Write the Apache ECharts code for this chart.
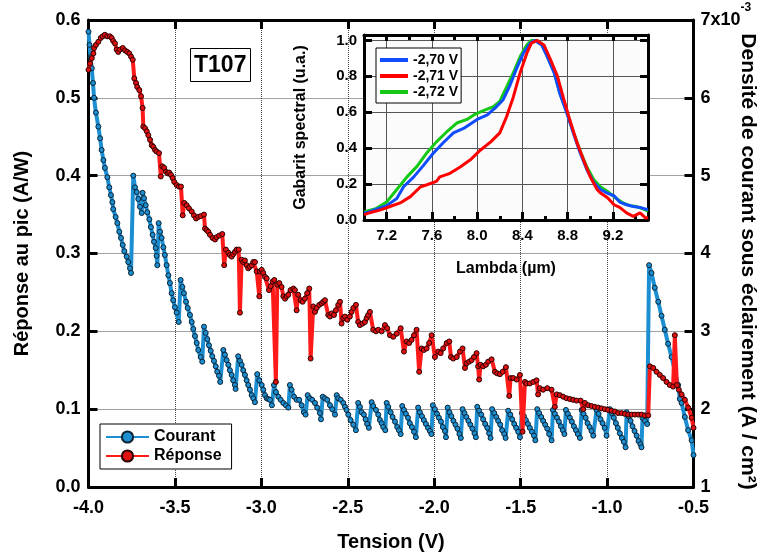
<!DOCTYPE html>
<html><head><meta charset="utf-8">
<script src="https://cdn.jsdelivr.net/npm/echarts@6/dist/echarts.min.js"></script>
<style>html,body{margin:0;padding:0;background:#fff}#c{width:764px;height:556px}</style>
</head><body><div id="c"></div>
<script>
// ---- Main chart: Courant (right axis, x1e-3 A/cm2) ----
const courantV = [
-4.000,-3.994,-3.988,-3.981,-3.974,-3.968,-3.957,-3.943,-3.933,-3.924,-3.914,-3.905,-3.891,-3.880,-3.870,-3.862,-3.857,-3.843,-3.833,-3.822,-3.812,-3.802,-3.793,-3.779,-3.770,-3.760,-3.754,
-3.741,-3.731,-3.721,-3.712,-3.702,-3.692,
-3.687,-3.679,-3.669,-3.660,-3.648,-3.639,-3.629,-3.621,-3.611,-3.606,-3.602,
-3.594,-3.586,-3.577,-3.567,-3.558,-3.548,-3.538,-3.529,-3.519,-3.510,-3.500,-3.490,-3.478,
-3.467,-3.457,-3.448,-3.436,-3.426,-3.413,-3.403,-3.394,-3.384,-3.374,-3.365,-3.351,-3.342,
-3.332,-3.322,-3.313,-3.303,-3.293,-3.284,-3.274,-3.264,-3.255,-3.245,-3.238,
-3.220,-3.211,-3.201,-3.191,-3.182,-3.172,-3.163,-3.153,-3.149,
-3.134,-3.124,-3.114,-3.105,-3.095,-3.085,-3.076,-3.066,-3.056,-3.047,-3.037,
-3.024,-3.012,-2.998,-2.989,-2.979,-2.969,-2.960,-2.950,-2.939,
-2.927,-2.916,-2.902,-2.888,-2.873,-2.858,-2.844,
-2.835,-2.825,-2.811,-2.796,-2.781,-2.767,-2.754,-2.744,
-2.732,-2.719,-2.706,-2.690,-2.677,-2.661,-2.655,
-2.645,-2.632,-2.619,-2.603,-2.590,-2.574,
-2.564,-2.555,-2.541,-2.526,-2.516,-2.507,-2.497,-2.484,-2.468,-2.453,
-2.440,-2.430,-2.420,-2.407,-2.397,-2.388,-2.378,
-2.362,-2.353,-2.337,-2.324,-2.314,-2.304,-2.295,-2.283,
-2.275,-2.266,-2.252,-2.241,-2.227,-2.214,-2.204,-2.194,
-2.185,-2.175,-2.164,-2.152,-2.141,-2.129,-2.117,-2.106,
-2.093,-2.083,-2.071,-2.060,-2.048,-2.036,-2.025,-2.016,
-2.008,-1.996,-1.984,-1.973,-1.961,-1.950,-1.938,-1.932,
-1.922,-1.912,-1.901,-1.889,-1.877,-1.866,-1.854,-1.846,
-1.836,-1.825,-1.814,-1.802,-1.791,-1.779,-1.767,-1.759,
-1.751,-1.740,-1.728,-1.717,-1.705,-1.693,-1.682,-1.674,
-1.665,-1.653,-1.641,-1.630,-1.618,-1.607,-1.595,-1.587,
-1.572,-1.560,-1.549,-1.537,-1.526,-1.514,-1.504,
-1.493,-1.481,-1.470,-1.458,-1.447,-1.435,-1.423,-1.415,
-1.404,-1.393,-1.381,-1.370,-1.358,-1.346,-1.335,-1.321,
-1.313,-1.302,-1.290,-1.279,-1.267,-1.256,-1.247,
-1.238,-1.227,-1.215,-1.204,-1.192,-1.180,-1.169,-1.157,
-1.147,-1.136,-1.124,-1.113,-1.101,-1.090,-1.080,
-1.061,-1.049,-1.038,-1.026,-1.014,-1.003,
-0.984,-0.972,-0.961,-0.949,-0.938,-0.926,-0.914,-0.903,-0.893,
-0.887,-0.876,-0.864,-0.853,-0.841,-0.829,-0.818,-0.807,-0.801,
-0.795,-0.781,-0.768,
-0.757,-0.743,-0.724,-0.704,-0.685,-0.666,-0.647,-0.627,-0.608,-0.589,-0.579,-0.569,-0.550,-0.531,-0.511,-0.500
];
const courantJ = [
6.85,6.68,6.52,6.38,6.19,6.00,5.81,5.63,5.48,5.33,5.20,5.10,4.98,4.85,4.75,4.66,4.57,4.47,4.39,4.28,4.20,4.11,4.03,3.96,3.89,3.81,3.75,
5.00,4.85,4.79,4.70,4.60,4.52,
4.78,4.71,4.62,4.53,4.44,4.34,4.24,4.15,4.07,3.97,3.85,
4.39,4.28,4.20,4.08,3.98,3.85,3.72,3.62,3.49,3.40,3.31,3.24,3.12,
3.66,3.57,3.49,3.38,3.30,3.21,3.12,3.03,2.94,2.85,2.76,2.67,2.61,
3.06,2.98,2.90,2.82,2.75,2.68,2.62,2.55,2.48,2.43,2.35,
2.76,2.70,2.63,2.57,2.50,2.44,2.37,2.31,2.26,
2.68,2.62,2.57,2.50,2.44,2.37,2.31,2.25,2.18,2.14,2.09,
2.45,2.37,2.31,2.25,2.18,2.14,2.13,2.12,2.05,
2.31,2.22,2.16,2.12,2.08,2.05,2.02,
2.31,2.25,2.16,2.12,2.12,2.05,1.96,1.93,
2.18,2.14,2.12,2.08,2.02,1.95,1.87,
2.16,2.14,2.12,2.05,2.00,1.93,
2.18,2.14,2.12,2.08,2.03,1.99,1.93,1.86,1.80,1.73,
2.08,2.03,1.96,1.93,1.87,1.81,1.76,
2.09,2.04,1.99,1.93,1.86,1.82,1.77,1.73,
2.08,2.03,1.96,1.90,1.84,1.77,1.73,1.68,
2.04,1.99,1.94,1.89,1.82,1.77,1.71,1.64,
2.02,1.96,1.91,1.86,1.81,1.76,1.72,1.68,
2.05,2.00,1.94,1.89,1.84,1.77,1.72,1.64,
2.02,1.96,1.91,1.85,1.80,1.75,1.68,1.63,
2.00,1.95,1.90,1.85,1.80,1.75,1.69,1.64,
2.03,1.98,1.93,1.87,1.81,1.76,1.69,1.63,
2.00,1.95,1.90,1.85,1.80,1.73,1.68,1.63,
1.98,1.93,1.87,1.81,1.76,1.71,1.64,
1.95,1.91,1.86,1.81,1.76,1.71,1.66,1.60,
2.00,1.95,1.90,1.85,1.80,1.75,1.68,1.60,
1.99,1.94,1.89,1.84,1.78,1.73,1.68,
1.99,1.94,1.89,1.84,1.78,1.73,1.68,1.63,
1.99,1.94,1.89,1.82,1.77,1.72,1.66,
1.99,1.94,1.87,1.82,1.76,1.66,
2.00,1.95,1.89,1.82,1.76,1.69,1.63,1.58,1.51,
1.96,1.91,1.85,1.78,1.72,1.66,1.59,1.55,1.51,
1.89,1.85,1.81,
3.85,3.75,3.56,3.38,3.20,3.02,2.84,2.67,2.49,2.31,2.13,2.08,1.90,1.73,1.60,1.41
];

// ---- Main chart: Réponse (left axis, A/W) ----
const reponseV = [
-4.000,-3.991,-3.981,-3.972,-3.968,-3.957,-3.943,-3.929,-3.918,-3.905,
-3.891,-3.876,-3.866,-3.857,-3.847,-3.837,-3.828,-3.818,-3.802,-3.789,
-3.776,-3.764,-3.754,-3.744,-3.735,-3.725,-3.718,-3.706,-3.696,-3.687,
-3.683,-3.673,-3.663,-3.654,-3.644,-3.634,-3.625,-3.615,-3.606,-3.592,
-3.582,-3.573,-3.562,-3.552,-3.542,-3.533,-3.523,-3.513,-3.504,-3.490,
-3.477,-3.465,-3.455,-3.446,-3.432,-3.419,-3.403,-3.390,-3.378,-3.365,
-3.351,-3.332,-3.326,-3.316,-3.307,-3.297,-3.282,-3.268,-3.259,-3.244,
-3.226,-3.215,-3.205,-3.191,-3.182,-3.172,-3.163,-3.153,-3.143,-3.131,
-3.124,-3.114,-3.105,-3.095,-3.085,-3.076,-3.066,-3.056,-3.047,-3.037,
-3.027,-3.012,-3.008,-2.998,-2.989,-2.979,-2.969,-2.956,-2.946,-2.935,
-2.925,-2.916,-2.908,-2.896,-2.883,-2.873,-2.863,-2.854,-2.844,-2.831,
-2.815,-2.806,-2.796,-2.787,-2.773,-2.761,-2.748,-2.735,-2.723,-2.715,
-2.700,-2.690,-2.680,-2.665,-2.651,-2.642,-2.632,-2.613,-2.603,-2.593,
-2.580,-2.569,-2.555,-2.545,-2.536,-2.526,-2.516,-2.503,-2.488,-2.478,
-2.468,-2.453,-2.440,-2.430,-2.414,-2.401,-2.391,-2.382,-2.372,-2.353,
-2.337,-2.324,-2.304,-2.285,-2.272,-2.256,-2.237,-2.217,-2.194,-2.175,
-2.160,-2.145,-2.131,-2.117,-2.102,-2.087,-2.073,-2.060,-2.044,-2.029,
-2.015,-1.996,-1.977,-1.963,-1.948,-1.928,-1.913,-1.903,-1.890,-1.870,
-1.851,-1.836,-1.822,-1.813,-1.798,-1.784,-1.770,-1.755,-1.746,-1.740,
-1.732,-1.717,-1.701,-1.688,-1.668,-1.649,-1.636,-1.620,-1.604,-1.585,
-1.566,-1.558,-1.543,-1.523,-1.504,-1.489,-1.475,-1.466,-1.447,-1.427,
-1.408,-1.399,-1.389,-1.370,-1.346,-1.321,-1.302,-1.292,-1.273,-1.254,
-1.234,-1.215,-1.196,-1.176,-1.153,-1.138,-1.128,-1.109,-1.090,-1.071,
-1.051,-1.032,-1.013,-0.994,-0.974,-0.955,-0.936,-0.916,-0.897,-0.878,
-0.858,-0.839,-0.820,-0.801,-0.781,-0.762,-0.752,-0.733,-0.714,-0.695,
-0.676,-0.656,-0.637,-0.618,-0.608,-0.596,-0.585,-0.569,-0.550,-0.531,
-0.511,-0.500
];
const reponseR = [
0.536,0.544,0.551,0.557,0.564,0.568,0.572,0.577,0.579,0.581,
0.579,0.579,0.577,0.573,0.570,0.562,0.559,0.562,0.564,0.561,
0.559,0.557,0.553,0.549,0.525,0.519,0.514,0.510,0.502,0.487,
0.463,0.461,0.457,0.452,0.446,0.439,0.437,0.433,0.431,0.429,
0.399,0.412,0.410,0.405,0.403,0.404,0.401,0.397,0.392,0.388,
0.386,0.386,0.349,0.365,0.362,0.358,0.354,0.349,0.345,0.347,
0.348,0.350,0.332,0.330,0.328,0.324,0.320,0.318,0.321,0.323,
0.325,0.285,0.305,0.301,0.298,0.296,0.299,0.302,0.305,0.305,
0.224,0.292,0.289,0.291,0.285,0.281,0.283,0.285,0.289,0.289,
0.277,0.245,0.277,0.279,0.275,0.270,0.268,0.253,0.258,0.264,
0.266,0.135,0.260,0.262,0.257,0.245,0.242,0.245,0.247,0.253,
0.255,0.253,0.227,0.247,0.240,0.238,0.242,0.249,0.255,0.165,
0.232,0.225,0.230,0.234,0.236,0.238,0.240,0.221,0.219,0.223,
0.221,0.227,0.234,0.238,0.210,0.217,0.219,0.215,0.219,0.225,
0.230,0.234,0.212,0.208,0.210,0.212,0.217,0.221,0.225,0.202,
0.200,0.202,0.200,0.208,0.204,0.195,0.193,0.197,0.204,0.174,
0.187,0.185,0.189,0.195,0.202,0.148,0.178,0.176,0.178,0.185,
0.195,0.167,0.174,0.172,0.178,0.185,0.187,0.167,0.165,0.167,
0.174,0.178,0.153,0.159,0.161,0.163,0.167,0.172,0.155,0.138,
0.157,0.155,0.157,0.161,0.164,0.148,0.146,0.145,0.148,0.154,
0.117,0.140,0.140,0.138,0.144,0.071,0.135,0.133,0.133,0.135,
0.137,0.119,0.127,0.125,0.127,0.125,0.103,0.119,0.118,0.116,
0.114,0.113,0.112,0.111,0.111,0.100,0.108,0.105,0.104,0.103,
0.102,0.101,0.100,0.099,0.098,0.097,0.095,0.095,0.094,0.093,
0.093,0.093,0.093,0.093,0.092,0.092,0.155,0.153,0.148,0.144,
0.140,0.135,0.131,0.129,0.195,0.131,0.125,0.119,0.112,0.102,
0.089,0.076
];

// ---- Inset: spectral templates ----
const lam70 = [7.00,7.02,7.11,7.20,7.29,7.35,7.44,7.52,7.61,7.70,7.79,7.88,8.00,8.09,8.17,8.23,8.29,8.35,8.41,8.47,8.51,8.57,8.62,8.68,8.73,8.79,8.85,8.91,8.97,9.03,9.09,9.15,9.21,9.26,9.32,9.38,9.44,9.49,9.51];
const gab70 = [0.04,0.04,0.06,0.08,0.12,0.185,0.24,0.30,0.37,0.43,0.485,0.51,0.56,0.585,0.63,0.67,0.75,0.845,0.93,0.985,1.00,0.975,0.91,0.82,0.705,0.60,0.485,0.375,0.28,0.21,0.17,0.15,0.135,0.10,0.085,0.075,0.07,0.06,0.06];
const lam71 = [7.00,7.05,7.14,7.23,7.32,7.41,7.50,7.55,7.64,7.67,7.76,7.85,7.94,8.03,8.12,8.20,8.26,8.32,8.38,8.44,8.48,8.53,8.59,8.65,8.71,8.76,8.82,8.88,8.94,9.00,9.06,9.09,9.15,9.21,9.26,9.32,9.38,9.44,9.49,9.51];
const gab71 = [0.03,0.04,0.055,0.075,0.095,0.13,0.185,0.195,0.215,0.24,0.26,0.295,0.335,0.39,0.435,0.485,0.575,0.685,0.82,0.93,0.985,1.00,0.975,0.89,0.80,0.685,0.555,0.435,0.335,0.24,0.17,0.15,0.125,0.085,0.07,0.04,0.02,0.04,0.01,0.015];
const lam72 = [7.00,7.11,7.20,7.29,7.38,7.47,7.55,7.64,7.73,7.82,7.91,7.97,8.06,8.14,8.20,8.26,8.32,8.38,8.44,8.48,8.53,8.57,8.62,8.68,8.73,8.79,8.85,8.91,8.97,9.03,9.09,9.15,9.24,9.29,9.35,9.41,9.47,9.51];
const gab72 = [0.045,0.065,0.10,0.17,0.24,0.30,0.37,0.435,0.49,0.54,0.56,0.585,0.61,0.63,0.66,0.74,0.82,0.91,0.975,1.00,1.00,0.98,0.91,0.825,0.71,0.605,0.49,0.385,0.295,0.225,0.185,0.16,0.115,0.095,0.08,0.075,0.06,0.05];

const mainNames = ['Courant', 'Réponse'];
const insetNames = ['-2,70 V', '-2,71 V', '-2,72 V'];

const zip = (a, b) => a.slice(0, Math.min(a.length, b.length)).map((v, i) => [v, b[i]]);
const FONT = '"Liberation Sans", Arial, Helvetica, sans-serif';
const bold = (s) => ({ fontFamily: FONT, fontWeight: 'bold', fontSize: s, color: '#000' });
const axLine = { show: true, onZero: false, lineStyle: { color: '#000', width: 3 } };
const isStep = (v, step) => Math.abs(v / step - Math.round(v / step)) < 1e-6;

const chart = echarts.init(document.getElementById('c'), null, { renderer: 'canvas', width: 764, height: 556 });
chart.setOption({
  animation: false,
  backgroundColor: '#fff',
  title: {
    text: 'T107', left: 190, top: 48, borderColor: '#000', borderWidth: 1,
    padding: [6, 4, 5, 4], textStyle: bold(23)
  },
  legend: [
    {
      data: mainNames, orient: 'vertical', left: 100, top: 424,
      borderColor: '#000', borderWidth: 1, backgroundColor: '#fff', borderRadius: 0,
      padding: [5, 10, 5, 5], itemGap: 3, itemWidth: 43, itemHeight: 14,
      textStyle: Object.assign(bold(16), { lineHeight: 16 }), z: 10
    },
    {
      data: insetNames.map(n => ({ name: n, icon: 'rect' })), orient: 'vertical', left: 376, top: 48,
      borderColor: '#000', borderWidth: 1, backgroundColor: '#fff', borderRadius: 0,
      padding: [5, 3, 4, 4], itemGap: 2, itemWidth: 28, itemHeight: 4,
      textStyle: Object.assign(bold(14), { lineHeight: 14 }), z: 10
    }
  ],
  grid: [
    { left: 88.5, top: 20, width: 605, height: 467, containLabel: false, outerBoundsMode: 'none' },
    { left: 364, top: 35, width: 284, height: 185, containLabel: false, outerBoundsMode: 'none',
      show: true, backgroundColor: '#fbfbfb', borderWidth: 0, z: 1 }
  ],
  xAxis: [
    {
      gridIndex: 0, type: 'value', min: -4, max: -0.5, interval: 0.5, position: 'bottom',
      axisLine: axLine,
      axisTick: { inside: true, length: 9, lineStyle: { color: '#000', width: 3 } },
      axisLabel: Object.assign(bold(18), { margin: 12, formatter: v => v.toFixed(1) }),
      splitLine: { show: true, lineStyle: { type: 'dotted', color: '#444', width: 1 } },
      name: 'Tension (V)', nameLocation: 'middle', nameGap: 45, nameMoveOverlap: false, nameTextStyle: bold(20)
    },
    {
      gridIndex: 0, type: 'value', min: -4, max: -0.5, interval: 0.5, position: 'top',
      axisLine: axLine,
      axisTick: { inside: true, length: 9, lineStyle: { color: '#000', width: 3 } },
      axisLabel: { show: false }, splitLine: { show: false }
    },
    {
      gridIndex: 1, type: 'value', min: 7.0, max: 9.51, minInterval: 0.4, maxInterval: 0.4, position: 'bottom', z: 3,
      axisLine: axLine,
      axisTick: { inside: true, length: 8, lineStyle: { color: '#000', width: 3 } },
      axisLabel: Object.assign(bold(15), { margin: 8, formatter: v => isStep(v, 0.4) ? v.toFixed(1) : '' }),
      splitLine: { show: true, lineStyle: { color: '#555', width: 1 } },
      name: 'Lambda (µm)', nameLocation: 'middle', nameGap: 41, nameMoveOverlap: false, nameTextStyle: bold(16)
    },
    {
      gridIndex: 1, type: 'value', min: 7.0, max: 9.51, interval: 0.2, position: 'bottom', z: 3,
      axisLine: { show: false, onZero: false },
      axisTick: { inside: true, length: 4, lineStyle: { color: '#000', width: 3 } },
      axisLabel: { show: false }, splitLine: { show: false }
    },
    {
      gridIndex: 1, type: 'value', min: 7.0, max: 9.51, minInterval: 0.4, maxInterval: 0.4, position: 'top', z: 3,
      axisLine: axLine,
      axisTick: { inside: true, length: 6, lineStyle: { color: '#000', width: 3 } },
      axisLabel: { show: false }, splitLine: { show: false }
    },
    {
      gridIndex: 1, type: 'value', min: 7.0, max: 9.51, interval: 0.2, position: 'top', z: 3,
      axisLine: { show: false, onZero: false },
      axisTick: { inside: true, length: 5, lineStyle: { color: '#000', width: 3 } },
      axisLabel: { show: false }, splitLine: { show: false }
    }
  ],
  yAxis: [
    {
      gridIndex: 0, type: 'value', min: 0, max: 0.6, interval: 0.1, position: 'left',
      axisLine: axLine,
      axisTick: { inside: true, length: 9, lineStyle: { color: '#000', width: 3 } },
      axisLabel: Object.assign(bold(18), { margin: 8, formatter: v => v.toFixed(1) }),
      splitLine: { show: true, lineStyle: { type: 'dotted', color: '#444', width: 1 } },
      name: 'Réponse au pic (A/W)', nameLocation: 'middle', nameRotate: 90, nameGap: 56, nameMoveOverlap: false,
      nameTextStyle: bold(20)
    },
    {
      gridIndex: 0, type: 'value', min: 1, max: 7, interval: 1, position: 'right',
      axisLine: axLine,
      axisTick: { inside: true, length: 9, lineStyle: { color: '#000', width: 3 } },
      axisLabel: Object.assign(bold(18), {
        margin: 7,
        formatter: v => v === 7 ? '{a|7x10}{s|-3}' : String(v),
        rich: { a: bold(18), s: Object.assign(bold(12), { padding: [0, 0, 24, 0] }) }
      }),
      splitLine: { show: false },
      name: 'Densité de courant sous éclairement (A / cm²)', nameLocation: 'middle', nameRotate: -90, nameGap: 44,
      nameMoveOverlap: false, nameTextStyle: Object.assign(bold(21), { padding: [0, 0, 0, 16] })
    },
    {
      gridIndex: 1, type: 'value', min: 0, max: 1.03, interval: 0.2, position: 'left', z: 3,
      axisLine: axLine,
      axisTick: { inside: true, length: 8, lineStyle: { color: '#000', width: 3 } },
      axisLabel: Object.assign(bold(15), { margin: 7, formatter: v => isStep(v, 0.2) ? v.toFixed(1) : '' }),
      splitLine: { show: true, lineStyle: { color: '#555', width: 1 } },
      name: 'Gabarit spectral (u.a.)', nameLocation: 'middle', nameRotate: 90, nameGap: 55, nameMoveOverlap: false,
      nameTextStyle: bold(16)
    },
    {
      gridIndex: 1, type: 'value', min: 0, max: 1.03, interval: 0.2, position: 'right', z: 3,
      axisLine: axLine,
      axisTick: { inside: true, length: 8, lineStyle: { color: '#000', width: 3 } },
      axisLabel: { show: false }, splitLine: { show: false }
    }
  ],
  series: [
    {
      name: 'Courant', type: 'line', xAxisIndex: 0, yAxisIndex: 1, data: zip(courantV, courantJ),
      symbol: 'circle', symbolSize: 5, showSymbol: true, silent: true, z: 3,
      lineStyle: { color: '#1c8fd2', width: 4 },
      itemStyle: { color: '#1c8fd2', borderColor: '#0b2233', borderWidth: 1 }
    },
    {
      name: 'Réponse', type: 'line', xAxisIndex: 0, yAxisIndex: 0, data: zip(reponseV, reponseR),
      symbol: 'circle', symbolSize: 5, showSymbol: true, silent: true, z: 4,
      lineStyle: { color: '#ff1a1a', width: 4 },
      itemStyle: { color: '#e01010', borderColor: '#2a0000', borderWidth: 1 }
    },
    {
      name: '-2,72 V', type: 'line', xAxisIndex: 2, yAxisIndex: 2, data: zip(lam72, gab72),
      symbol: 'none', silent: true, z: 5,
      lineStyle: { color: '#16c816', width: 3 }, itemStyle: { color: '#16c816' }
    },
    {
      name: '-2,70 V', type: 'line', xAxisIndex: 2, yAxisIndex: 2, data: zip(lam70, gab70),
      symbol: 'none', silent: true, z: 5,
      lineStyle: { color: '#0f4dff', width: 3 }, itemStyle: { color: '#0f4dff' }
    },
    {
      name: '-2,71 V', type: 'line', xAxisIndex: 2, yAxisIndex: 2, data: zip(lam71, gab71),
      symbol: 'none', silent: true, z: 5,
      lineStyle: { color: '#ff0000', width: 3 }, itemStyle: { color: '#ff0000' }
    }
  ]
});
</script>
</body></html>
